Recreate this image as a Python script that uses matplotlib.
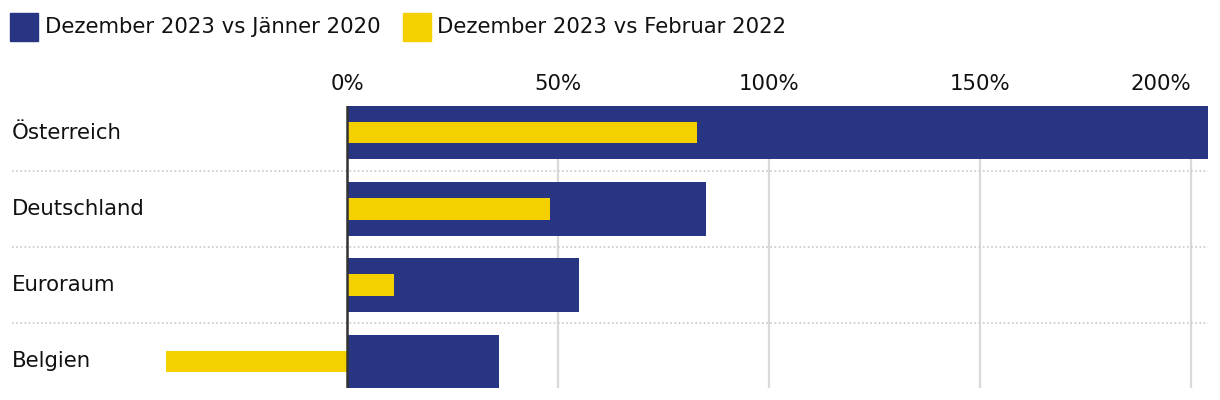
import matplotlib.pyplot as plt
from matplotlib.patches import Rectangle

countries = ['Österreich', 'Deutschland', 'Euroraum', 'Belgien']
vs_jan_2020 = [205, 85, 55, 36]
vs_feb_2022 = [83, 48, 11, -43]
ticks = [0, 50, 100, 150, 200]
tick_labels = ['0%', '50%', '100%', '150%', '200%']
series_names = ['Dezember 2023 vs Jänner 2020', 'Dezember 2023 vs Februar 2022']

BLUE = '#283583'
YELLOW = '#f5d000'
TXT = '#111111'

plt.rcParams['font.family'] = ['DejaVu Sans']

W, H = 1220, 400
fig = plt.figure(figsize=(W / 100, H / 100), dpi=100)

def px(x0, y0, x1, y1):
    # pixel box (top-left origin) -> figure fraction rect
    return [x0 / W, 1 - y1 / H, (x1 - x0) / W, (y1 - y0) / H]

ax = fig.add_axes(px(12, 106, 1208, 388))
rows = list(range(len(countries)))

ax.barh(rows, vs_jan_2020, height=0.70, color=BLUE, zorder=2)
ax.barh(rows, vs_feb_2022, height=0.28, color=YELLOW, zorder=3)

ax.set_xlim(-79.4, 204)
ax.set_ylim(len(countries) - 0.65, -0.35)

# vertical grid for positive ticks, dark zero line
for t in ticks[1:]:
    ax.axvline(t, color='#d9d9d9', lw=1.6, zorder=1)
ax.axvline(0, color='#333333', lw=1.8, zorder=4)

# dotted separators between rows
for r in rows[:-1]:
    ax.axhline(r + 0.5, color='#c8c8c8', lw=1.2, ls=(0, (1, 1.5)), zorder=1)

ax.xaxis.tick_top()
ax.set_xticks(ticks)
ax.set_xticklabels(tick_labels)
ax.tick_params(axis='x', length=0, pad=9, labelsize=15.3, labelcolor=TXT)
ax.get_xticklabels()[-1].set_horizontalalignment('right')
ax.set_yticks([])
for s in ax.spines.values():
    s.set_visible(False)

for r, c in zip(rows, countries):
    ax.text(0, r, c, transform=ax.get_yaxis_transform(), ha='left', va='center',
            fontsize=15.3, color=TXT)

# legend
for (x0, x1, tx), col, name in zip([(10, 38, 45), (403, 431, 437)], [BLUE, YELLOW], series_names):
    fig.add_artist(Rectangle((x0 / W, 1 - 41 / H), (x1 - x0) / W, 28 / H,
                             transform=fig.transFigure, color=col))
    fig.text(tx / W, 1 - 27 / H, name, ha='left', va='center', fontsize=15.3, color=TXT)

fig.savefig('out.png', dpi=100)
